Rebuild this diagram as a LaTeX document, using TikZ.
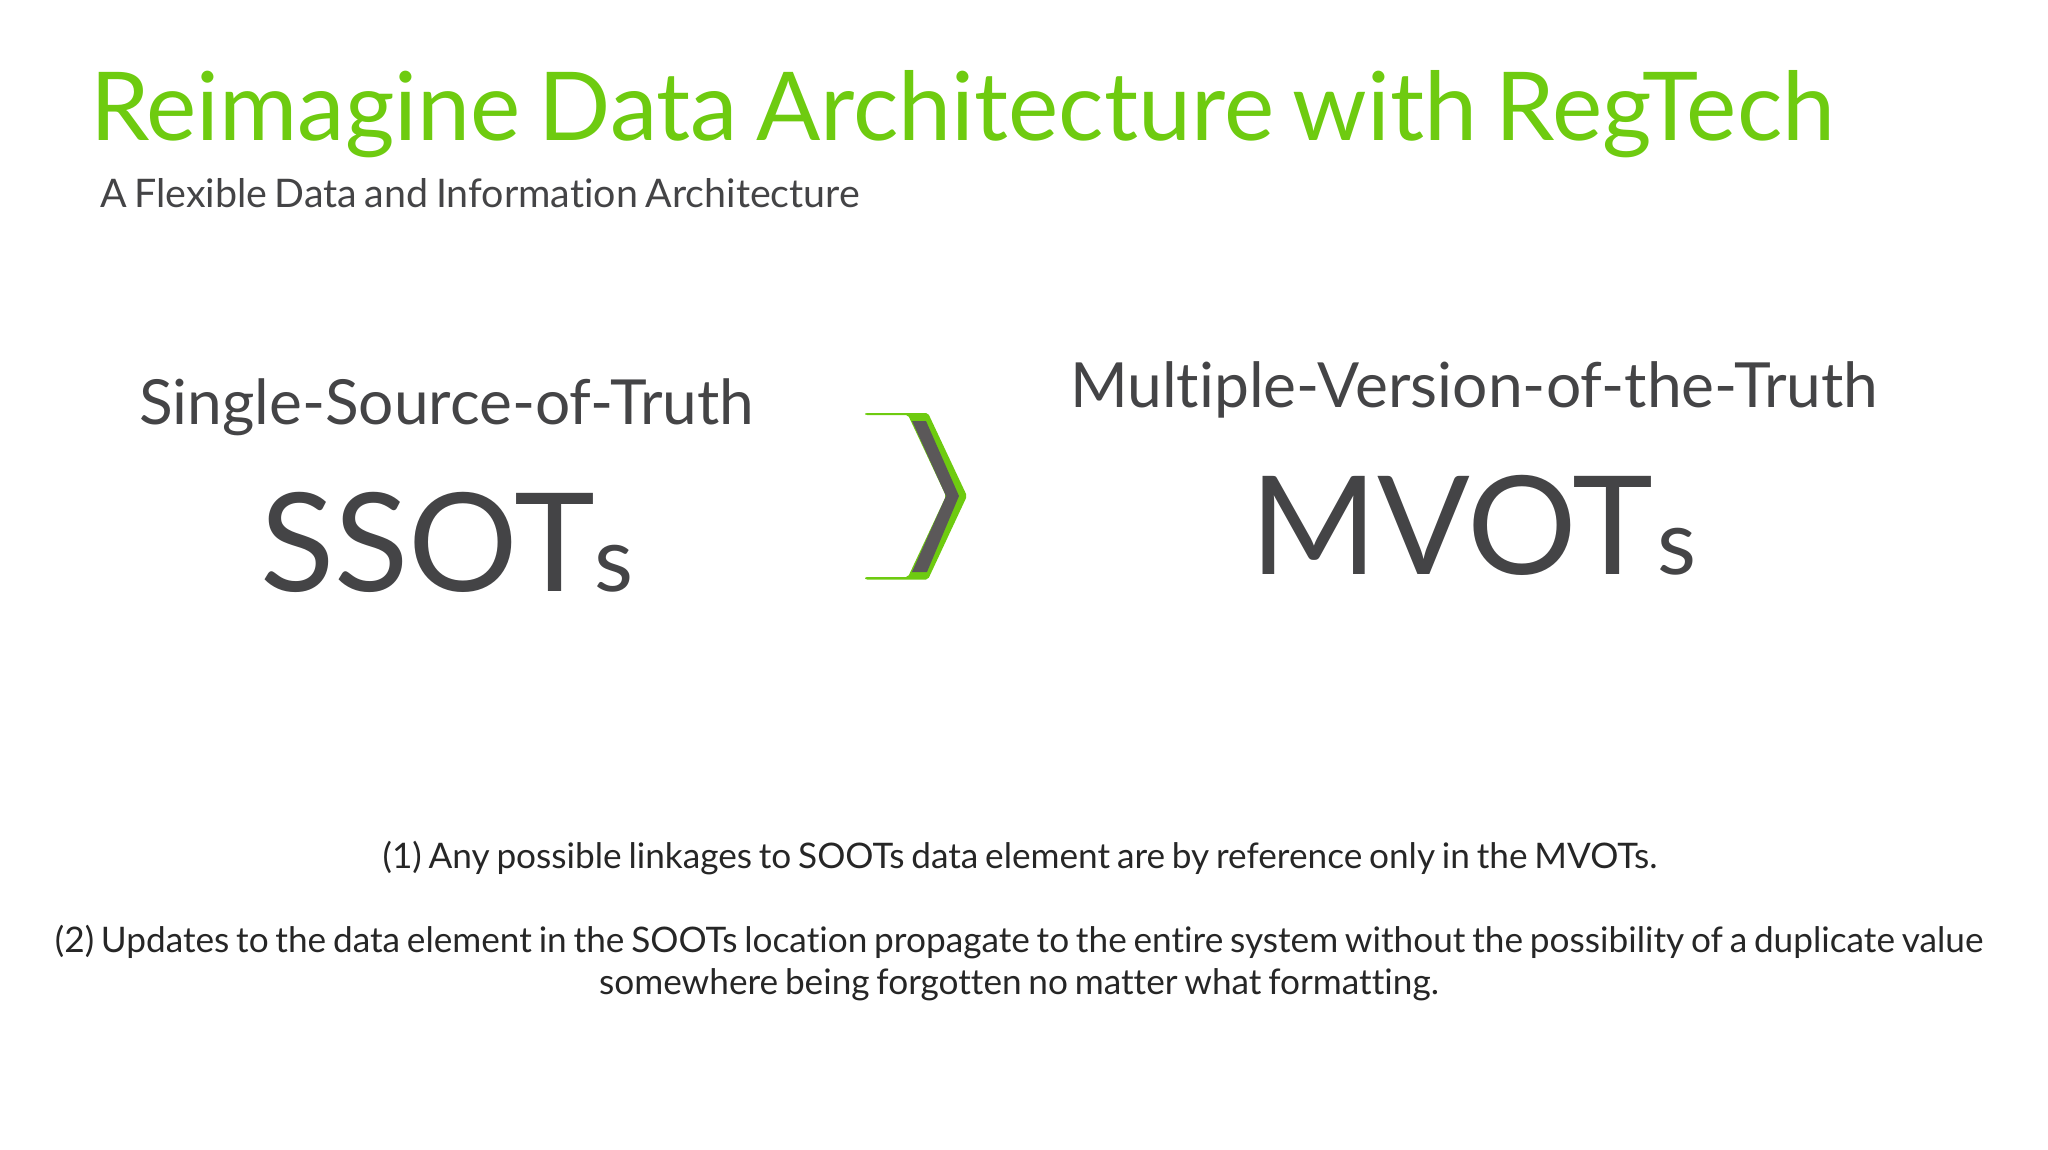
\documentclass[tikz,border=0pt]{standalone}
\usepackage{fontspec}
\setmainfont{Lato}[Ligatures=NoCommon, WordSpace=0.75]
\definecolor{regGreen}{HTML}{6ECB10}
\definecolor{regGray}{HTML}{444446}
\definecolor{arrowGray}{HTML}{5B5859}
\tikzset{
	txt/.style={inner sep=0pt, outer sep=0pt, anchor=base west, text=regGray},
	note/.style={inner sep=0pt, outer sep=0pt, anchor=base, text=black!85},
}
\begin{document}
\begin{tikzpicture}[x=1pt, y=-1pt]
	\useasboundingbox (0,0) rectangle (2048,1150);
	\node[txt, text=regGreen] (title)   at (90,141)   {\fontsize{95.1}{97}\selectfont Reimagine Data Architecture with RegTech};
	\node[txt]                (sub)     at (100,208)  {\fontsize{39.4}{40}\selectfont A Flexible Data and Information Architecture};
	\node[txt]                (ssotlong) at (139,424) {\fontsize{62.2}{62}\selectfont Single-Source-of-Truth};
	\node[txt]                (ssot)    at (260,591)  {\fontsize{137}{137}\selectfont SSOT};
	\node[txt]                (ssots)   at (594,591)  {\fontsize{90}{90}\selectfont s};
	\node[txt]                (mvotlong) at (1070,407) {\fontsize{62.3}{62}\selectfont Multiple-Version-of-the-Truth};
	\node[txt]                (mvot)    at (1250,574) {\fontsize{137}{137}\selectfont MVOT};
	\node[txt]                (mvots)   at (1657,574) {\fontsize{90}{90}\selectfont s};
	%chevron
	\fill[regGreen, rounded corners=2pt] (865,413) -- (928,413) -- (967,496) -- (928,579.5) -- (865,579.5) -- (865,577) -- (908,577) -- (946,496) -- (908,415) -- (865,415) -- cycle;
	\fill[arrowGray] (912,421) -- (926,421) -- (959,496) -- (927,572) -- (912,572) -- (946,496) -- cycle;
	\node[note] (first)  at (1020,868) {\fontsize{35.2}{35}\selectfont (1) Any possible linkages to SOOTs data element are by reference only in the MVOTs.};
	\node[note] (second) at (1019,952) {\fontsize{35.2}{35}\selectfont (2) Updates to the data element in the SOOTs location propagate to the entire system without the possibility of a duplicate value};
	\node[note] (third)  at (1019,994) {\fontsize{35.2}{35}\selectfont somewhere being forgotten no matter what formatting.};
\end{tikzpicture}
\end{document}
